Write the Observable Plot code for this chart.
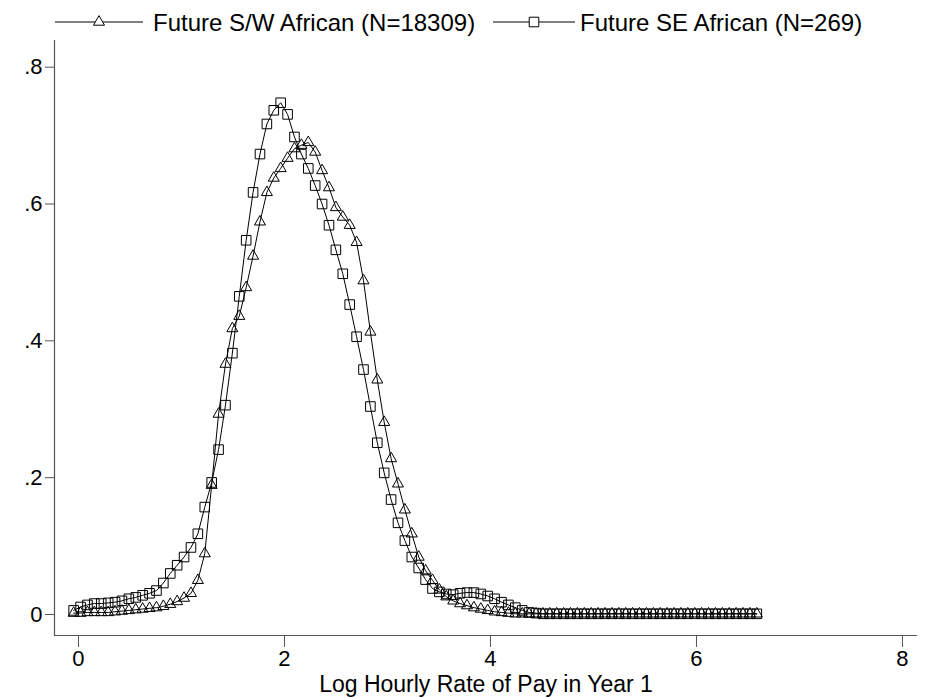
<!DOCTYPE html>
<html><head><meta charset="utf-8">
<script src="https://cdn.jsdelivr.net/npm/d3@7"></script>
<script src="https://cdn.jsdelivr.net/npm/@observablehq/plot@0.6"></script>
<style>
html,body{margin:0;padding:0;background:#fff;}
body{font-family:"Liberation Sans",Arial,sans-serif;width:927px;height:698px;overflow:hidden;}
#legend{display:block;}
#chart svg{display:block;}
</style></head><body>
<svg id="legend" width="927" height="38"></svg>
<div id="chart"></div>
<script>
// Evaluation grid (log hourly pay)
const xGrid = [-0.047,0.020,0.087,0.154,0.221,0.288,0.355,0.422,0.489,0.556,
0.623,0.690,0.757,0.824,0.891,0.958,1.025,1.092,1.159,1.226,
1.293,1.360,1.427,1.494,1.561,1.628,1.695,1.762,1.829,1.896,
1.963,2.030,2.097,2.164,2.231,2.298,2.365,2.432,2.499,2.566,
2.633,2.700,2.767,2.834,2.901,2.968,3.035,3.102,3.169,3.236,
3.303,3.370,3.437,3.504,3.571,3.638,3.705,3.772,3.839,3.906,
3.973,4.040,4.107,4.174,4.241,4.308,4.375,4.442,4.509,4.576,
4.643,4.710,4.777,4.844,4.911,4.978,5.045,5.112,5.179,5.246,
5.313,5.380,5.447,5.514,5.581,5.648,5.715,5.782,5.849,5.916,
5.983,6.050,6.117,6.184,6.251,6.318,6.385,6.452,6.519,6.586];

// Future S/W African (N=18309) density
const swDensity = [0.002,0.002,0.003,0.003,0.003,0.003,0.004,0.005,0.006,0.007,
0.008,0.009,0.010,0.012,0.015,0.019,0.024,0.031,0.050,0.089,
0.189,0.293,0.366,0.418,0.436,0.478,0.524,0.574,0.617,0.638,
0.652,0.667,0.681,0.686,0.690,0.676,0.649,0.624,0.595,0.581,
0.569,0.544,0.488,0.413,0.343,0.281,0.228,0.191,0.153,0.118,
0.084,0.064,0.050,0.036,0.026,0.020,0.016,0.013,0.010,0.008,
0.006,0.004,0.003,0.002,0.001,0.001,0.001,0.001,0.001,0.001,
0.001,0.001,0.001,0.001,0.001,0.001,0.001,0.001,0.001,0.001,
0.001,0.001,0.001,0.001,0.001,0.001,0.001,0.001,0.001,0.001,
0.001,0.001,0.001,0.001,0.001,0.001,0.001,0.001,0.001,0.001];

// Future SE African (N=269) density
const seDensity = [0.006,0.011,0.014,0.016,0.016,0.017,0.018,0.020,0.023,0.025,
0.028,0.031,0.035,0.046,0.060,0.072,0.084,0.098,0.118,0.157,
0.193,0.241,0.306,0.382,0.465,0.547,0.617,0.673,0.717,0.737,
0.748,0.731,0.698,0.673,0.652,0.627,0.600,0.569,0.533,0.498,
0.453,0.406,0.358,0.304,0.251,0.207,0.168,0.134,0.108,0.084,
0.068,0.051,0.038,0.033,0.030,0.029,0.031,0.032,0.032,0.030,
0.027,0.023,0.018,0.014,0.010,0.006,0.003,0.002,0.001,0.001,
0.001,0.001,0.001,0.001,0.001,0.001,0.001,0.001,0.001,0.001,
0.001,0.001,0.001,0.001,0.001,0.001,0.001,0.001,0.001,0.001,
0.001,0.001,0.001,0.001,0.001,0.001,0.001,0.001,0.001,0.001];

const seriesNames = ["Future S/W African (N=18309)", "Future SE African (N=269)"];
const xTicks = [0, 2, 4, 6, 8];
const yTicks = [0, 0.2, 0.4, 0.6, 0.8];
const yTickLabels = ["0", ".2", ".4", ".6", ".8"];
const xTitle = "Log Hourly Rate of Pay in Year 1";

const sw = xGrid.map((x, i) => ({x, y: swDensity[i]}));
const se = xGrid.map((x, i) => ({x, y: seDensity[i]}));

const xDomain = [-0.233, 8.146];
const yDomain = [-0.0307, 0.839];
const axisColor = "#555";
const font = "'Liberation Sans', Arial, sans-serif";

const chart = Plot.plot({
  width: 927,
  height: 660,
  marginTop: 2,
  marginLeft: 54,
  marginRight: 10,
  marginBottom: 63,
  style: {fontFamily: font, background: "#fff", color: "#000", overflow: "visible"},
  x: {domain: xDomain},
  y: {domain: yDomain},
  marks: [
    Plot.axisX({ticks: xTicks, tickSize: 12, tickPadding: 3, fontSize: 22, label: null, stroke: axisColor, color: "#000", tickFormat: d => String(d)}),
    Plot.axisY({ticks: yTicks, tickSize: 9, tickPadding: 3, fontSize: 22, label: null, stroke: axisColor,
      tickFormat: d => yTickLabels[yTicks.indexOf(d)]}),
    Plot.ruleX([xDomain[0]], {stroke: axisColor, strokeWidth: 1.2}),
    Plot.ruleY([yDomain[0]], {stroke: axisColor, strokeWidth: 1.2}),
    Plot.line(sw, {x: "x", y: "y", stroke: "#000", strokeWidth: 1}),
    Plot.line(se, {x: "x", y: "y", stroke: "#000", strokeWidth: 1}),
    Plot.dot(sw, {x: "x", y: "y", symbol: "triangle", r: 4.1, stroke: "#000", fill: "none", strokeWidth: 1}),
    Plot.dot(se, {x: "x", y: "y", symbol: "square", r: 5.4, stroke: "#000", fill: "none", strokeWidth: 1}),
    Plot.text([xTitle], {frameAnchor: "bottom", dy: 56, fontSize: 23, fill: "#000", fontFamily: font})
  ]
});
document.getElementById("chart").appendChild(chart);

// Legend
const lg = d3.select("#legend");
const items = [
  {name: seriesNames[0], symbol: d3.symbolTriangle, size: Math.PI * 4.1 * 4.1, x0: 55, x1: 143, tx: 153},
  {name: seriesNames[1], symbol: d3.symbolSquare, size: Math.PI * 5.4 * 5.4, x0: 493, x1: 575, tx: 580}
];
const ly = 22;
for (const it of items) {
  lg.append("line").attr("x1", it.x0).attr("x2", it.x1).attr("y1", ly).attr("y2", ly).attr("stroke", "#000").attr("stroke-width", 1);
  lg.append("path").attr("d", d3.symbol(it.symbol, it.size)()).attr("transform", `translate(${(it.x0 + it.x1) / 2},${ly})`)
    .attr("fill", "#fff").attr("stroke", "#000").attr("stroke-width", 1);
  lg.append("text").attr("x", it.tx).attr("y", ly).attr("dy", "0.36em").attr("font-size", 24).attr("font-family", font).attr("fill", "#000").text(it.name);
}
</script>
</body></html>
